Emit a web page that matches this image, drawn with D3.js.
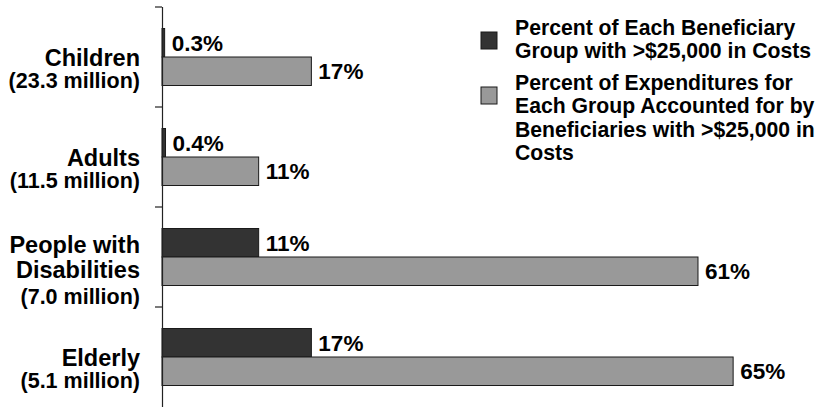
<!DOCTYPE html>
<html>
<head>
<meta charset="utf-8">
<script src="https://cdn.jsdelivr.net/npm/d3@7/dist/d3.min.js"></script>
<style>
  html, body { margin: 0; padding: 0; background: #fff; }
  svg { display: block; font-family: Arial, "Liberation Sans", sans-serif; font-weight: bold; }
</style>
</head>
<body>
<svg id="chart" width="820" height="407"></svg>
<script>
const categories = ["Children", "Adults", "People with Disabilities", "Elderly"];
const categoryLines = [
  ["Children"],
  ["Adults"],
  ["People with", "Disabilities"],
  ["Elderly"]
];
const populations = ["(23.3 million)", "(11.5 million)", "(7.0 million)", "(5.1 million)"];
const seriesNames = [
  "Percent of Each Beneficiary Group with >$25,000 in Costs",
  "Percent of Expenditures for Each Group Accounted for by Beneficiaries with >$25,000 in Costs"
];
const legendLines = [
  ["Percent of Each Beneficiary", "Group with >$25,000 in Costs"],
  ["Percent of Expenditures for", "Each Group Accounted for by", "Beneficiaries with >$25,000 in", "Costs"]
];
const pctHighCost = [0.3, 0.4, 11, 17];
const pctExpenditures = [17, 11, 61, 65];
const seriesColors = ["#333333", "#999999"];

const svg = d3.select("#chart");
const axisX = 162;

const y = d3.scaleBand().domain(categories).range([7, 407]).paddingInner(0.43).paddingOuter(0.215);
const ySub = d3.scaleBand().domain([0, 1]).range([0, y.bandwidth()]);
const x = d3.scaleLinear().domain([0, 75]).range([axisX, 821]);

const rows = categories.map((c, i) => ({cat: c, vals: [pctHighCost[i], pctExpenditures[i]]}));

// bars
const g = svg.append("g");
rows.forEach(r => {
  r.vals.forEach((v, s) => {
    g.append("rect")
      .attr("x", x(0))
      .attr("y", y(r.cat) + ySub(s))
      .attr("width", x(v) - x(0))
      .attr("height", ySub.bandwidth())
      .attr("fill", seriesColors[s])
      .attr("stroke", "#1a1a1a")
      .attr("stroke-width", 1);
    g.append("text")
      .attr("x", x(v) + 7)
      .attr("y", y(r.cat) + ySub(s) + ySub.bandwidth() / 2 + 8)
      .attr("font-size", 22.5)
      .attr("fill", "#000")
      .text((v < 1 ? d3.format(".1f")(v) : d3.format("d")(v)) + "%");
  });
});

// axis (category)
const axis = d3.axisLeft(y).tickSize(0).tickFormat("");
const axG = svg.append("g").attr("transform", `translate(${axisX},0)`).call(axis);
axG.select(".domain").attr("stroke", "#222").attr("stroke-width", 1.2).attr("d", "M0.5,7V407");
const bounds = categories.map(c => y(c) - y.step() * y.paddingInner() / 2);
axG.selectAll(".sep").data(bounds).join("line")
  .attr("class", "sep")
  .attr("x1", -7).attr("x2", 0)
  .attr("y1", d => d).attr("y2", d => d)
  .attr("stroke", "#222").attr("stroke-width", 1.2);

// category labels
categories.forEach((c, i) => {
  const cy = y(c) + y.bandwidth() / 2;
  const lines = categoryLines[i];
  const t = svg.append("text").attr("text-anchor", "end").attr("fill", "#000");
  const start = lines.length === 1 ? cy + 9 : cy - 4.5;
  const gap = lines.length === 1 ? 22 : 25.5;
  lines.forEach((ln, k) => {
    t.append("tspan").attr("x", 140).attr("y", start + k * gap).attr("font-size", 23.5).text(ln);
  });
  t.append("tspan").attr("x", 140).attr("y", start + (lines.length - 1) * gap + gap).attr("font-size", 21.5).text(populations[i]);
});

// legend
const legendTop = [32, 87];
legendLines.forEach((lines, s) => {
  svg.append("rect")
    .attr("x", 481).attr("y", legendTop[s])
    .attr("width", 16).attr("height", 17)
    .attr("fill", seriesColors[s])
    .attr("stroke", "#1a1a1a").attr("stroke-width", 1);
  const t = svg.append("text").attr("fill", "#000").attr("font-size", 21.2);
  lines.forEach((ln, k) => {
    t.append("tspan").attr("x", 515).attr("y", legendTop[s] + 3 + k * 23.4).text(ln);
  });
});
</script>
</body>
</html>
